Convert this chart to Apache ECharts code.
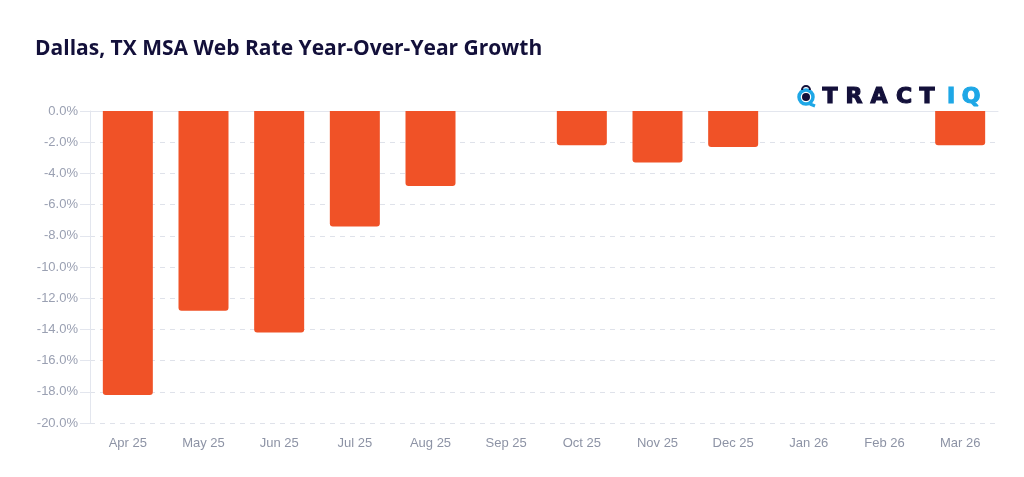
<!DOCTYPE html>
<html><head><meta charset="utf-8">
<script src="https://cdn.jsdelivr.net/npm/echarts@6/dist/echarts.min.js"></script>
<style>html,body{margin:0;padding:0;background:#fff}#c{width:1024px;height:477px}</style>
</head><body><div id="c"></div>
<script>
const categories = ['Apr 25','May 25','Jun 25','Jul 25','Aug 25','Sep 25','Oct 25','Nov 25','Dec 25','Jan 26','Feb 26','Mar 26'];
const growth = [-18.2, -12.8, -14.2, -7.4, -4.8, null, -2.2, -3.3, -2.3, null, null, -2.2];
const yMin = -20, yMax = 0, yStep = 2;

const logoLetters = [['T',830,'#13103a'],['R',854,'#13103a'],['A',879,'#13103a'],['C',904,'#13103a'],['T',927,'#13103a'],['I',951,'#1ea7e6'],['Q',971,'#1ea7e6']];
const logo = [
  {type: 'circle', shape: {cx: 806, cy: 97, r: 7}, style: {fill: 'none', stroke: '#1ea7e6', lineWidth: 3.5}},
  {type: 'circle', shape: {cx: 806, cy: 97, r: 4}, style: {fill: '#13103a'}},
  {type: 'arc', shape: {cx: 806, cy: 90, r: 4, startAngle: Math.PI, endAngle: 0, clockwise: true}, style: {fill: 'none', stroke: '#13103a', lineWidth: 2}},
  {type: 'line', shape: {x1: 810, y1: 104, x2: 815, y2: 106}, style: {stroke: '#1ea7e6', lineWidth: 3}}
].concat(logoLetters.map(([ch, x, col]) => ({
  type: 'text', x: x, y: 97,
  style: {text: ch, fontFamily: 'DejaVu Sans', fontWeight: 'bold', fontSize: 22, fill: col, stroke: col, lineWidth: 1.2, align: 'center', verticalAlign: 'middle'}
})));

const chart = echarts.init(document.getElementById('c'));
chart.setOption({
  animation: false,
  backgroundColor: '#fff',
  title: {
    text: 'Dallas, TX MSA Web Rate Year-Over-Year Growth',
    left: 30, top: 34,
    textStyle: {fontFamily: 'Open Sans', fontWeight: 'bold', fontSize: 21, color: '#13103a'}
  },
  graphic: logo,
  grid: {left: 90, right: 26, top: 111, bottom: 54},
  xAxis: {
    type: 'category', data: categories,
    axisLine: {lineStyle: {color: '#e3e6ee'}},
    axisTick: {show: false},
    axisLabel: {color: '#8d93a5', fontSize: 13, fontFamily: 'Liberation Sans', margin: 14}
  },
  yAxis: {
    type: 'value', min: yMin, max: yMax, interval: yStep,
    axisLine: {show: true, lineStyle: {color: '#e3e6ee'}},
    axisTick: {show: true, length: 10, lineStyle: {color: '#e3e6ee'}},
    axisLabel: {color: '#9aa0b2', fontSize: 13, fontFamily: 'Liberation Sans', margin: 12,
      formatter: v => v.toFixed(1) + '%'},
    splitLine: {lineStyle: {color: '#dfe2ea', type: [5, 5]}}
  },
  series: [{
    type: 'bar', data: growth, barWidth: 50,
    itemStyle: {color: '#f05227', borderRadius: [0, 0, 3, 3]}
  }]
});
</script></body></html>
